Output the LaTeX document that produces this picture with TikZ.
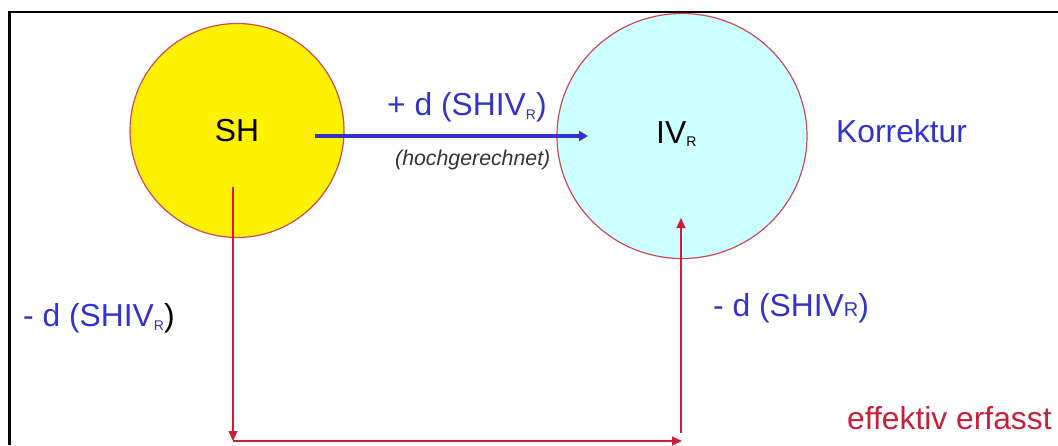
\documentclass[tikz,border=0pt]{standalone}
\usepackage{fontspec}
\setmainfont{Liberation Sans}
\usetikzlibrary{arrows.meta,shapes.geometric}
\definecolor{tblue}{HTML}{3333CC}
\definecolor{tred}{HTML}{C8203A}
\definecolor{cborder}{HTML}{CC4A5A}
\definecolor{cyanfill}{HTML}{CCFFFF}
\newcommand{\subR}{\raisebox{-3.5pt}{\fontsize{14}{14}\selectfont R}}
\begin{document}
\begin{tikzpicture}[x=1pt,y=-1pt,
  big/.style={font=\fontsize{31.8}{36}\selectfont, inner sep=0pt, anchor=base west},
  bubble/.style={draw=cborder, line width=1.2pt},
  redarrow/.style={draw=tred, line width=1.3pt, -{Triangle[length=10pt,width=9pt]}},
  bluearrow/.style={draw=tblue, line width=3.2pt, -{Triangle[length=9pt,width=10pt]}}]
\useasboundingbox (0,0) rectangle (1058,445);
% frame
\draw[line width=2.4pt] (9.5,445) -- (9.5,12) -- (1060,12);
% circles
\node[bubble, fill=yellow, circle, minimum size=214pt, inner sep=0pt] (sh) at (237,130.5) {};
\node[bubble, fill=cyanfill, ellipse, minimum width=250pt, minimum height=245pt, inner sep=0pt] (iv) at (682,136) {};
% texts in circles
\node[big, anchor=center] (shtext) at (237,131) {SH};
\node[big] (ivtext) at (656,143) {IV\subR};
% blue arrow
\coordinate (ba) at (315,136);
\coordinate (bb) at (588,136);
\draw[bluearrow] (ba) -- (bb);
\node[big, text=tblue] (plus) at (387,115.5) {+ d (SHIV\subR)};
\node[font=\fontsize{21.3}{24}\selectfont\itshape, text=black!80, inner sep=0pt, anchor=base west] (hoch) at (395,165.5) {(hochgerechnet)};
\node[big, text=tblue] (korr) at (836,142) {Korrektur};
% red arrows
\coordinate (r1) at (233,187);
\coordinate (r2) at (233,441);
\coordinate (r3) at (682,441);
\coordinate (r4) at (681,433);
\coordinate (r5) at (681,218);
\draw[redarrow] (r1) -- (r2);
\draw[redarrow] (r2) -- (r3);
\draw[redarrow] (r4) -- (r5);
% labels
\node[big, text=tblue] (lleft) at (23,326.5) {- d (SHIV\subR\textcolor{black}{)}};
\node[big, text=tblue] (lright) at (713,316.5) {- d (SHIV{\fontsize{20}{20}\selectfont R})};
\node[big, text=tred] (eff) at (847,429) {effektiv erfasst};
\end{tikzpicture}
\end{document}
